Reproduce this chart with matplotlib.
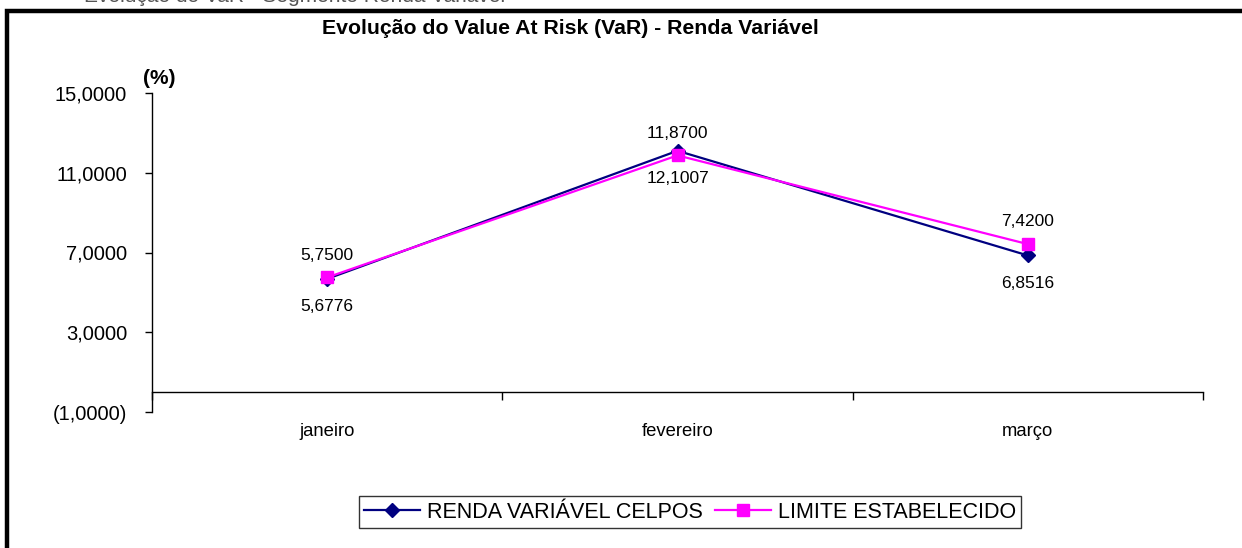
import matplotlib

matplotlib.use("Agg")
import matplotlib.pyplot as plt
from matplotlib.patches import Rectangle

plt.rcParams["font.family"] = ["Liberation Sans", "DejaVu Sans"]

months = ["janeiro", "fevereiro", "março"]
var_celpos = [5.6776, 12.1007, 6.8516]
limite = [5.75, 11.87, 7.42]
y_ticks = [-1, 3, 7, 11, 15]
y_tick_labels = ["(1,0000)", "3,0000", "7,0000", "11,0000", "15,0000"]

NAVY = "#000080"
MAGENTA = "#FF00FF"


def fmt(v: float) -> str:
    return f"{v:.4f}".replace(".", ",")


fig = plt.figure(figsize=(12.42, 5.48), dpi=100)
W, H = 1242, 548
ax = fig.add_axes([152 / W, 1 - 412 / H, (1203 - 152) / W, (412 - 93) / H])

x = list(range(len(months)))
ax.plot(x, var_celpos, color=NAVY, lw=1.6, marker="D", ms=7.5, label="RENDA VARIÁVEL CELPOS", zorder=3)
ax.plot(x, limite, color=MAGENTA, lw=1.6, marker="s", ms=8.5, label="LIMITE ESTABELECIDO", zorder=4)

for xi, v in zip(x, limite):
    ax.annotate(fmt(v), (xi, v), xytext=(0, 16), textcoords="offset points", ha="center", va="center", fontsize=12.5)
for xi, v in zip(x, var_celpos):
    ax.annotate(fmt(v), (xi, v), xytext=(0, -20), textcoords="offset points", ha="center", va="center", fontsize=12.5)

ax.set_xlim(-0.5, len(months) - 0.5)
ax.set_ylim(-1, 15)
ax.set_yticks(y_ticks)
ax.set_yticklabels(y_tick_labels, fontsize=14.5)
ax.tick_params(axis="y", direction="out", length=5, width=1, pad=13)

ax.spines["top"].set_visible(False)
ax.spines["right"].set_visible(False)
ax.spines["bottom"].set_position(("data", 0))
ax.spines["left"].set_linewidth(1)
ax.spines["bottom"].set_linewidth(1)

ax.set_xticks([i - 0.5 for i in range(len(months) + 1)], minor=True)
ax.set_xticks(x)
ax.set_xticklabels(months, fontsize=13.3)
ax.tick_params(axis="x", which="major", length=0, pad=22)
ax.tick_params(axis="x", which="minor", direction="out", length=6, width=1)

fig.text(159 / W, 1 - 78 / H, "(%)", fontsize=15, fontweight="bold", ha="center", va="center")
fig.text(570 / W, 1 - 28 / H, "Evolução do Value At Risk (VaR) - Renda Variável",
         fontsize=15.3, fontweight="bold", ha="center", va="center")
# header line of the page, clipped by the top edge as in the source
fig.text(84 / W, 1 - 2.5 / H, "Evolução do VaR - Segmento Renda Variável",
         fontsize=15, ha="left", va="baseline", color="#555555")

fig.patches.append(Rectangle((7 / W, -0.2), 1.2, 1.2 - 10.5 / H, transform=fig.transFigure,
                             fill=False, edgecolor="black", lw=3.2, zorder=10))

leg = ax.legend(loc="center", bbox_to_anchor=(690 / W, 1 - 512 / H), bbox_transform=fig.transFigure,
                ncol=2, fontsize=15.5, frameon=True, fancybox=False, shadow=False,
                handlelength=2.6, handletextpad=0.3, columnspacing=0.6, borderpad=0.25)
leg.get_frame().set_edgecolor("black")
leg.get_frame().set_linewidth(1)

fig.savefig("out.png", dpi=100)
